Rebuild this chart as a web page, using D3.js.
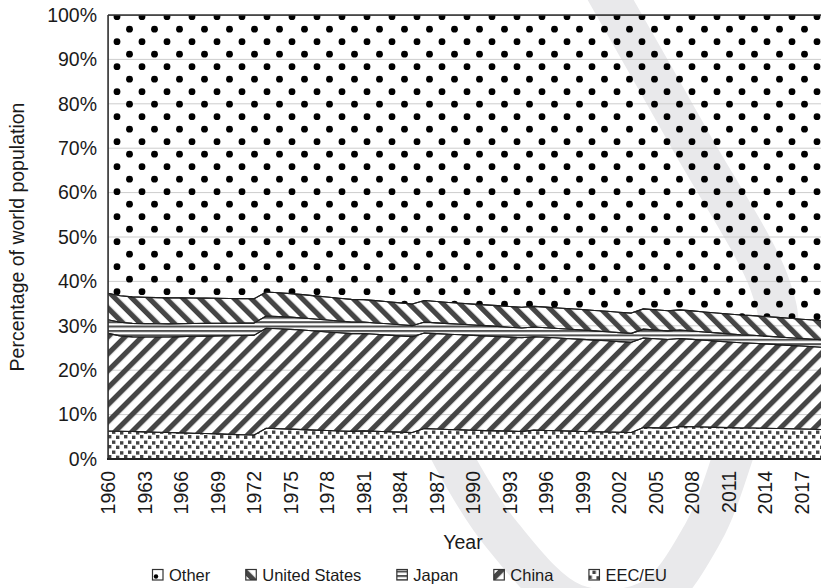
<!DOCTYPE html>
<html>
<head>
<meta charset="utf-8">
<script src="https://cdn.jsdelivr.net/npm/d3@7"></script>
<style>
  html, body { margin: 0; padding: 0; background: #fff; }
  svg { display: block; font-family: "Liberation Sans", Arial, Helvetica, sans-serif; }
</style>
</head>
<body>
<div id="chart"></div>
<script>
// Years on the category axis
const years = d3.range(1960, 2020);

// Share of world population, %
const eecEu = [6.29,6.25,6.19,6.11,6.03,5.96,5.88,5.81,5.73,5.65,5.55,5.47,5.39,6.94,6.83,6.72,6.62,6.51,6.41,6.31,
  6.22,6.34,6.24,6.15,6.05,5.96,6.85,6.74,6.64,6.56,6.48,6.40,6.33,6.27,6.19,6.50,6.43,6.35,6.28,6.21,
  6.14,6.08,6.03,5.98,7.08,7.02,6.96,7.33,7.26,7.20,7.13,7.06,6.99,6.98,6.92,6.86,6.81,6.75,6.69,6.64];
const china = [22.00,21.48,21.31,21.38,21.44,21.52,21.68,21.83,21.95,22.09,22.22,22.36,22.45,22.51,22.51,22.48,22.43,22.31,22.21,22.12,
  22.01,21.91,21.84,21.76,21.68,21.59,21.54,21.50,21.47,21.43,21.37,21.33,21.26,21.18,21.12,21.04,20.98,20.90,20.82,20.74,
  20.64,20.54,20.41,20.30,20.18,20.07,19.94,19.81,19.68,19.54,19.41,19.29,19.19,19.10,19.00,18.90,18.78,18.69,18.59,18.46];
const japan = [3.07,3.06,3.04,3.01,2.98,2.95,2.92,2.89,2.86,2.84,2.81,2.78,2.77,2.76,2.76,2.75,2.72,2.70,2.68,2.65,
  2.62,2.59,2.56,2.54,2.51,2.48,2.45,2.42,2.39,2.36,2.33,2.30,2.27,2.24,2.21,2.19,2.16,2.14,2.11,2.09,
  2.07,2.05,2.03,2.01,1.99,1.97,1.95,1.92,1.90,1.88,1.86,1.83,1.81,1.79,1.76,1.74,1.72,1.70,1.68,1.66];
const unitedStates = [5.96,5.98,5.97,5.93,5.89,5.85,5.80,5.74,5.69,5.62,5.57,5.52,5.47,5.41,5.35,5.30,5.25,5.21,5.17,5.14,
  5.10,5.06,5.02,4.97,4.93,4.89,4.85,4.81,4.76,4.73,4.70,4.69,4.68,4.67,4.66,4.65,4.64,4.63,4.63,4.62,
  4.61,4.60,4.59,4.57,4.56,4.55,4.54,4.53,4.52,4.50,4.49,4.47,4.45,4.43,4.41,4.39,4.38,4.35,4.33,4.30];
const other = [62.68,63.23,63.49,63.57,63.66,63.72,63.72,63.73,63.77,63.80,63.85,63.87,63.92,62.38,62.55,62.75,62.98,63.27,63.53,63.78,
  64.05,64.10,64.34,64.58,64.83,65.08,64.31,64.53,64.74,64.92,65.12,65.28,65.46,65.64,65.82,65.62,65.79,65.98,66.16,66.34,
  66.54,66.73,66.94,67.14,66.19,66.39,66.61,66.41,66.64,66.88,67.11,67.35,67.56,67.70,67.91,68.11,68.31,68.51,68.71,68.94];

// Stacking order (bottom to top) and legend order
const keys = ["EEC/EU", "China", "Japan", "United States", "Other"];
const legendKeys = ["Other", "United States", "Japan", "China", "EEC/EU"];
const seriesByKey = {"EEC/EU": eecEu, "China": china, "Japan": japan, "United States": unitedStates, "Other": other};

const xTickYears = [1960,1963,1966,1969,1972,1975,1978,1981,1984,1987,1990,1993,1996,1999,2002,2005,2008,2011,2014,2017];
const yTicks = [0,10,20,30,40,50,60,70,80,90,100];

const W = 821, H = 588;
const plot = {left: 108, right: 826, top: 15, bottom: 459};
const fontSize = "19.5px";

const table = years.map((yr, i) => {
  const row = {year: yr};
  keys.forEach(k => row[k] = seriesByKey[k][i]);
  return row;
});

const svg = d3.select("#chart").append("svg")
  .attr("width", W)
  .attr("height", H);

const defs = svg.append("defs");

const ink = "#454545";

// Patterns
const pOther = defs.append("pattern")
  .attr("id", "pat-other").attr("patternUnits", "userSpaceOnUse")
  .attr("width", 25).attr("height", 25);
pOther.append("circle").attr("cx", 17).attr("cy", 16.7).attr("r", 3.4).attr("fill", "#000");
pOther.append("circle").attr("cx", 4.5).attr("cy", 4.2).attr("r", 3.4).attr("fill", "#000");

function stripes(id, angle) {
  const p = defs.append("pattern")
    .attr("id", id).attr("patternUnits", "userSpaceOnUse")
    .attr("width", 12).attr("height", 12)
    .attr("patternTransform", `rotate(${angle})`);
  p.append("rect").attr("x", 0).attr("y", 0).attr("width", 5.2).attr("height", 12).attr("fill", ink);
}
stripes("pat-us", -45);
stripes("pat-china", 45);

const pJapan = defs.append("pattern")
  .attr("id", "pat-japan").attr("patternUnits", "userSpaceOnUse")
  .attr("width", 8).attr("height", 4.4);
pJapan.append("rect").attr("x", 0).attr("y", 0).attr("width", 8).attr("height", 2).attr("fill", "#505050");

const pEu = defs.append("pattern")
  .attr("id", "pat-eu").attr("patternUnits", "userSpaceOnUse")
  .attr("width", 16).attr("height", 10);
[[0,0.5],[8,1.2],[4,5.6],[12,5]].forEach(([px, py]) => {
  pEu.append("rect").attr("x", px).attr("y", py).attr("width", 3.4).attr("height", 3.4).attr("fill", "#444");
});

const fills = {
  "Other": "url(#pat-other)",
  "United States": "url(#pat-us)",
  "Japan": "url(#pat-japan)",
  "China": "url(#pat-china)",
  "EEC/EU": "url(#pat-eu)"
};

// Scales
const x = d3.scaleLinear()
  .domain([1960, 2019])
  .range([plot.left, plot.right]);

const y = d3.scaleLinear()
  .domain([0, 100])
  .range([plot.bottom, plot.top]);

// Watermark (light grey stroke behind the chart)
const watermarkPts = [[605,-10],[690,140],[770,285],[778,335],[742,430],[703,533],[650,600],[575,604],[502,535],[452,456],[420,385]];
svg.append("path")
  .attr("d", d3.line().curve(d3.curveCatmullRom)(watermarkPts))
  .attr("fill", "none")
  .attr("stroke", "#e9e9eb")
  .attr("stroke-width", 40);

const clip = defs.append("clipPath").attr("id", "plot-clip");
clip.append("rect")
  .attr("x", plot.left).attr("y", plot.top)
  .attr("width", plot.right - plot.left).attr("height", plot.bottom - plot.top);

const stackedData = d3.stack().keys(keys)(table);

const area = d3.area()
  .x(d => x(d.data.year))
  .y0(d => y(d[0]))
  .y1(d => y(d[1]));

const g = svg.append("g").attr("clip-path", "url(#plot-clip)");

// White base under the patterned country layers
g.append("path")
  .datum(stackedData[3])
  .attr("d", d3.area()
    .x(d => x(d.data.year))
    .y0(y(0))
    .y1(d => y(d[1])))
  .attr("fill", "#fff");

// Gridlines
g.selectAll(".grid")
  .data(yTicks)
  .join("line")
    .attr("class", "grid")
    .attr("x1", plot.left).attr("x2", plot.right)
    .attr("y1", d => y(d)).attr("y2", d => y(d))
    .attr("stroke", "#cdcdcd")
    .attr("stroke-width", 1);

// Layers
g.selectAll(".layer")
  .data(stackedData)
  .join("path")
    .attr("class", "layer")
    .attr("d", area)
    .attr("fill", d => fills[d.key])
    .attr("stroke", "#1e1e1e")
    .attr("stroke-width", 1.1)
    .attr("stroke-linejoin", "round");

// Axes
const yAxis = svg.append("g")
  .attr("transform", `translate(${plot.left},0)`)
  .call(d3.axisLeft(y).tickValues(yTicks).tickFormat(d => d + "%").tickSize(0).tickPadding(11));
yAxis.select(".domain").remove();
yAxis.selectAll("text")
  .attr("font-size", fontSize)
  .attr("font-family", "Liberation Sans, Arial, sans-serif")
  .attr("fill", "#1a1a1a");

const xAxis = svg.append("g")
  .attr("transform", `translate(0,${plot.bottom})`)
  .call(d3.axisBottom(x).tickValues(xTickYears).tickFormat(d3.format("d")).tickSize(0));
xAxis.select(".domain").remove();
xAxis.selectAll("text")
  .attr("font-size", fontSize)
  .attr("font-family", "Liberation Sans, Arial, sans-serif")
  .attr("fill", "#1a1a1a")
  .attr("text-anchor", "end")
  .attr("transform", "rotate(-90)")
  .attr("x", -12)
  .attr("y", 0)
  .attr("dy", "0.35em");

// Frame
svg.append("line")
  .attr("x1", plot.left).attr("x2", W)
  .attr("y1", plot.top).attr("y2", plot.top)
  .attr("stroke", "#333").attr("stroke-width", 1.3);
svg.append("line")
  .attr("x1", plot.left).attr("x2", plot.left)
  .attr("y1", plot.top).attr("y2", plot.bottom)
  .attr("stroke", "#333").attr("stroke-width", 1.5);
svg.append("line")
  .attr("x1", plot.left - 1).attr("x2", W)
  .attr("y1", plot.bottom).attr("y2", plot.bottom)
  .attr("stroke", "#222").attr("stroke-width", 2.2);

// Axis titles
svg.append("text")
  .attr("transform", `translate(17,${(plot.top + plot.bottom) / 2}) rotate(-90)`)
  .attr("text-anchor", "middle")
  .attr("dy", "0.35em")
  .attr("font-size", fontSize)
  .attr("fill", "#1a1a1a")
  .text("Percentage of world population");

svg.append("text")
  .attr("x", 463)
  .attr("y", 542)
  .attr("text-anchor", "middle")
  .attr("dy", "0.35em")
  .attr("font-size", fontSize)
  .attr("fill", "#1a1a1a")
  .text("Year");

// Legend
const legend = svg.append("g").attr("transform", "translate(152,575)");
let cursor = 0;
legendKeys.forEach(k => {
  const item = legend.append("g").attr("transform", `translate(${cursor},0)`);
  item.append("rect")
    .attr("x", 0.5).attr("y", -5.5)
    .attr("width", 10.5).attr("height", 10.5)
    .attr("fill", k === "Other" ? "#fff" : fills[k])
    .attr("stroke", "#333").attr("stroke-width", 1.2);
  if (k === "Other") {
    item.append("circle").attr("cx", 4).attr("cy", 1.5).attr("r", 2.2).attr("fill", "#000");
  }
  const t = item.append("text")
    .attr("x", 17)
    .attr("dy", "0.35em")
    .attr("font-size", "16.5px")
    .attr("fill", "#1a1a1a")
    .text(k);
  cursor += 17 + t.node().getComputedTextLength() + 35;
});
</script>
</body>
</html>
